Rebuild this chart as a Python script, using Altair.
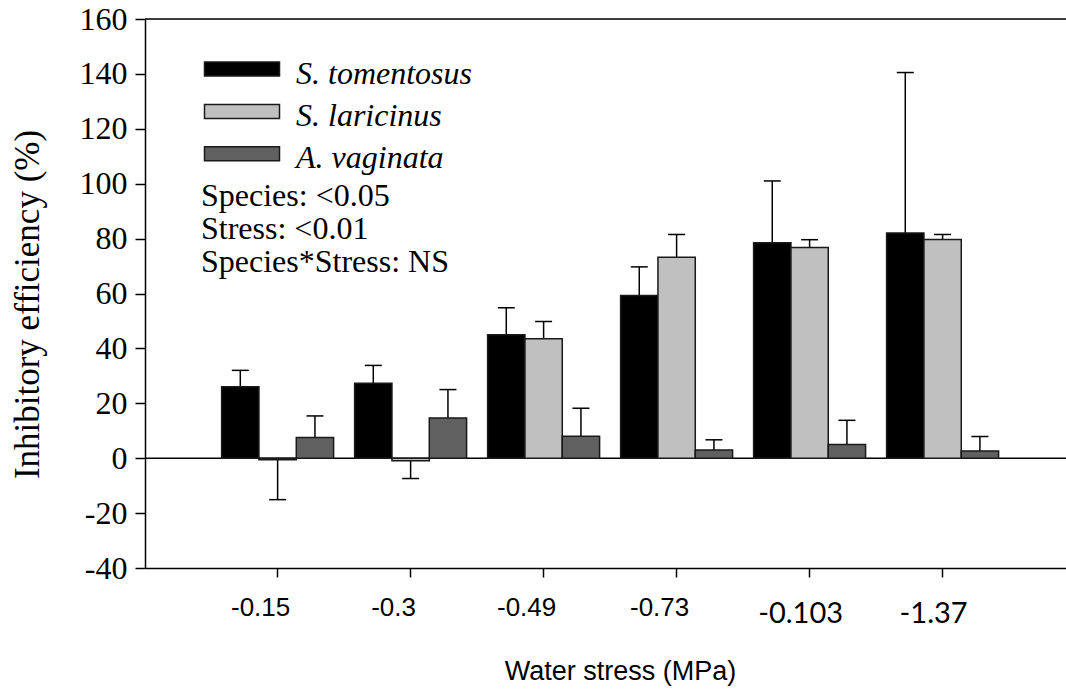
import altair as alt
import pandas as pd

stress = ["-0.15", "-0.3", "-0.49", "-0.73", "-0.103", "-1.37"]
species = ["S. tomentosus", "S. laricinus", "A. vaginata"]
tomentosus_mean = [26.0, 27.3, 45.0, 59.3, 78.5, 82.0]
tomentosus_se = [6.0, 6.5, 9.8, 10.4, 22.5, 58.5]
laricinus_mean = [-0.6, -0.9, 43.5, 73.2, 76.8, 79.7]
laricinus_se = [14.5, 6.5, 6.3, 8.3, 2.8, 1.8]
vaginata_mean = [7.5, 14.6, 8.0, 3.0, 5.0, 2.6]
vaginata_se = [7.9, 10.4, 10.2, 3.7, 8.8, 5.3]
colors = ["#000000", "#c0c0c0", "#606060"]
stats_lines = ["Species: <0.05", "Stress: <0.01", "Species*Stress: NS"]
y_ticks = [-40, -20, 0, 20, 40, 60, 80, 100, 120, 140, 160]
y_domain = [-40, 160]

W, H = 921, 549

rows = []
for sp, means, ses in zip(species,
                          [tomentosus_mean, laricinus_mean, vaginata_mean],
                          [tomentosus_se, laricinus_se, vaginata_se]):
    for st, m, s in zip(stress, means, ses):
        end = m + s if m >= 0 else m - s
        rows.append({"stress": st, "species": sp, "mean": m, "end": end})
df = pd.DataFrame(rows)

yscale = alt.Scale(domain=y_domain, nice=False, zero=False)
fill_scale = alt.Scale(domain=species, range=colors)

x_enc = alt.X(
    "stress:N", sort=stress,
    scale=alt.Scale(paddingInner=0.158, paddingOuter=0.5415, align=0.532, round=False),
    axis=alt.Axis(
        title="Water stress (MPa)", labelAngle=0, tickSize=9, tickWidth=1.5,
        tickColor="black", domainColor="black", domainWidth=1.5,
        labelColor="black", labelBaseline="alphabetic",
        labelFont={"condition": {"test": "datum.index > 0.7", "value": "Lato"}, "value": "Liberation Sans"},
        labelFontSize={"condition": {"test": "datum.index > 0.7", "value": 29}, "value": 26},
        labelPadding={"condition": {"test": "datum.index > 0.7", "value": 45}, "value": 38},
        labelOffset={"condition": {"test": "datum.index > 0.7", "value": -9}, "value": -17},
        titleFont="Liberation Sans", titleFontSize=27, titleFontWeight="normal",
        titleColor="black", titleX=475, titleY=111, titleAlign="center",
        titleBaseline="alphabetic", grid=False,
    ),
)
xo_enc = alt.XOffset("species:N", sort=species, scale=alt.Scale(paddingInner=0, paddingOuter=0))

base = alt.Chart(df).encode(x=x_enc, xOffset=xo_enc)

top_line = alt.Chart(pd.DataFrame({"v": [y_domain[1]]})).mark_rule(
    color="black", strokeWidth=1.5
).encode(y=alt.Y("v:Q", scale=yscale), x=alt.value(0), x2=alt.value(W))

zero_line = alt.Chart(pd.DataFrame({"v": [0]})).mark_rule(
    color="black", strokeWidth=1.5
).encode(y=alt.Y("v:Q", scale=yscale), x=alt.value(0), x2=alt.value(W))

bars = base.mark_bar(stroke="#1a1a1a", strokeWidth=1.5).encode(
    y=alt.Y("mean:Q", scale=yscale,
            axis=alt.Axis(values=y_ticks, title="Inhibitory efficiency (%)",
                          labelExpr="'' + datum.value",
                          tickSize=10, tickWidth=1.5, tickColor="black",
                          domainColor="black", domainWidth=1.5,
                          labelFont="Liberation Serif", labelFontSize=32,
                          labelColor="black", labelPadding=8,
                          titleFont="Liberation Serif", titleFontSize=35,
                          titleFontWeight="normal", titleColor="black",
                          titleAngle=270, titleX=-118, titleY=285,
                          titleAlign="center", titleBaseline="middle", grid=False)),
    fill=alt.Fill("species:N", sort=species, scale=fill_scale, legend=None),
)

errs = base.mark_rule(color="black", strokeWidth=1.5).encode(
    y=alt.Y("mean:Q", scale=yscale), y2="end:Q")
caps = base.mark_tick(color="black", thickness=1.5, size=17, opacity=1).encode(
    y=alt.Y("end:Q", scale=yscale))

# manual legend (one row per species)
leg_df = pd.DataFrame({"species": species})
legend_layers = []
for i, sp in enumerate(species):
    cy = 50 + i * 42.4
    one = alt.Chart(leg_df).transform_filter(alt.datum.species == sp)
    legend_layers.append(
        one.mark_rect(stroke="#1a1a1a", strokeWidth=1.5).encode(
            x=alt.value(59.5), x2=alt.value(134.5),
            y=alt.value(cy - 7), y2=alt.value(cy + 7),
            fill=alt.Fill("species:N", scale=fill_scale, legend=None))
    )
    legend_layers.append(
        one.mark_text(align="left", baseline="alphabetic", font="Liberation Serif",
                      fontStyle="italic", fontSize=32, color="black").encode(
            text="species:N", x=alt.value(151), y=alt.value(cy + 14.5))
    )

stats = alt.Chart(pd.DataFrame({"t": ["\n".join(stats_lines)]})).mark_text(
    align="left", baseline="alphabetic", font="Liberation Serif", fontSize=32,
    lineBreak="\n", lineHeight=33.3, color="black"
).encode(text="t:N", x=alt.value(56), y=alt.value(186.7))

chart = alt.layer(top_line, zero_line, errs, bars, caps, *legend_layers, stats).properties(
    width=W, height=H,
    autosize=alt.AutoSizeParams(type="none"),
    padding={"left": 145, "top": 19, "right": 0, "bottom": 122},
).configure_view(stroke=None).configure(background="white")

chart.save("out.html", embed_options={"renderer": "svg", "actions": False})
